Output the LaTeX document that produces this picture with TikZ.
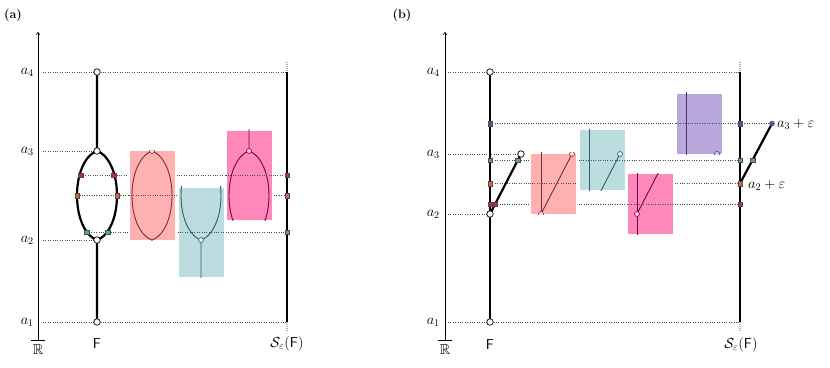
\RequirePackage{fix-cm}
\documentclass[tikz,border=0pt]{standalone}
\usepackage{amssymb}
\usetikzlibrary{arrows.meta}
\definecolor{cSal}{HTML}{FFB0B0}
\definecolor{cTea}{HTML}{BBDDE0}
\definecolor{cMag}{HTML}{FF88BB}
\definecolor{cPur}{HTML}{B9A8DC}
\definecolor{dSal}{HTML}{7A2E2E}
\definecolor{dTea}{HTML}{2F5F60}
\definecolor{dMag}{HTML}{7A0040}
\definecolor{dPur}{HTML}{46306E}
\definecolor{mSal}{HTML}{E85A4A}
\definecolor{mTea}{HTML}{5AA0A8}
\definecolor{mMag}{HTML}{E0106A}
\definecolor{mPur}{HTML}{6A4BAF}
\tikzset{
  lbl/.style={font=\fontsize{14.5}{17}\selectfont, inner sep=1pt},
  tag/.style={font=\fontsize{12.5}{15}\selectfont, inner sep=1pt},
  guide/.style={draw=black!70, line width=0.6pt, dash pattern=on 0.8pt off 1.6pt},
  axisline/.style={line width=0.6pt},
  fline/.style={line width=2.2pt},
  bline/.style={line width=0.9pt},
  ext/.style={draw=black!30, line width=2pt, dash pattern=on 1pt off 1pt},
  ocirc/.style={circle, draw=black, fill=white, line width=0.7pt, minimum size=6.5pt, inner sep=0pt},
  bcirc/.style={circle, draw=#1, fill=white, line width=0.6pt, minimum size=5pt, inner sep=0pt},
  pdot/.style={circle, draw=black!70, fill=mPur, line width=0.4pt, minimum size=5pt, inner sep=0pt},
  mk/.style={rectangle, draw=black!70, fill=#1, line width=0.4pt, minimum size=4.6pt, inner sep=0pt},
  boxA/.style={rectangle, draw=white, line width=0.8pt, fill=#1, minimum width=46pt, minimum height=90pt, inner sep=0pt},
  boxB/.style={rectangle, draw=white, line width=0.8pt, fill=#1, minimum width=46pt, minimum height=61pt, inner sep=0pt},
}
% F of panel (a)
\newcommand\lensFa[1]{%
  \coordinate (#1t) at (97,72);
  \coordinate (#1u) at (97,151);
  \coordinate (#1l) at (77,195.5);
  \coordinate (#1r) at (117,195.5);
  \coordinate (#1d) at (97,240);
  \coordinate (#1b) at (97,322);
  \draw (#1t) -- (#1u) .. controls +(-10,3) and +(0,-25) .. (#1l) .. controls +(0,25) and +(-10,-3) .. (#1d) -- (#1b);
  \draw (#1u) .. controls +(10,3) and +(0,-25) .. (#1r) .. controls +(0,25) and +(10,-3) .. (#1d);
}
% F of panel (b)
\newcommand\branchFb[1]{%
  \coordinate (#1t) at (490,72);
  \coordinate (#1d) at (490,214);
  \coordinate (#1e) at (521,154);
  \coordinate (#1b) at (490,322);
  \draw (#1t) -- (#1b);
  \draw (#1d) -- (#1e);
}
\begin{document}
\begin{tikzpicture}[x=1pt,y=-1pt]
\useasboundingbox (0,0) rectangle (830,367);

%================= PANEL (a) =================
\node[tag] (tagA) at (13,15) {\textbf{(a)}};
\coordinate (aAxB) at (38,340);
\coordinate (aAxT) at (38,32);
\coordinate (aTkL) at (31,340);
\coordinate (aTkR) at (45,340);
\coordinate (gA4) at (43,72);
\coordinate (gA3) at (43,151);
\coordinate (gA2) at (43,240);
\coordinate (gA1) at (43,322);
\coordinate (SaT) at (287,72);
\coordinate (SaB) at (287,322);
\coordinate (SaTx) at (287,62);
\coordinate (SaBx) at (287,331);

\node[mk=mMag] (aFm1) at (80.5,175) {};
\node[mk=mMag] (aFm2) at (113.5,175) {};
\node[mk=mSal] (aFo1) at (77,195.5) {};
\node[mk=mSal] (aFo2) at (117,195.5) {};
\node[mk=mTea] (aFt1) at (86.5,232) {};
\node[mk=mTea] (aFt2) at (107.5,232) {};
\coordinate (aSm) at (287,175);
\coordinate (aSo) at (287,195.5);
\coordinate (aSt) at (287,232);

\draw[guide] (gA4) -- (SaT);
\draw[guide] (gA3) -- (97,151);
\draw[guide] (gA2) -- (97,240);
\draw[guide] (gA1) -- (SaB);
\draw[guide] (aFm1) -- (aSm);
\draw[guide] (aFo1) -- (aSo);
\draw[guide] (aFt1) -- (aSt);

\draw[axisline, -{To[length=3pt,width=4pt]}] (aAxB) -- (aAxT);
\draw[axisline] (aTkL) -- (aTkR);

\node[boxA=cSal] (pA) at (152,195.5) {};
\node[boxA=cTea] (tA) at (201,232) {};
\node[boxA=cMag] (mA) at (249,175) {};
\begin{scope}
  \clip (pA.south west) rectangle (pA.north east);
  \begin{scope}[shift={(55,0)}, bline, color=dSal]
    \lensFa{pa}
    \node[bcirc=dSal, fill=white!55!cSal] (pac) at (pau) {};
  \end{scope}
\end{scope}
\begin{scope}
  \clip (tA.south west) rectangle (tA.north east);
  \begin{scope}[shift={(104,0)}, bline, color=dTea]
    \lensFa{ta}
    \node[bcirc=dTea, fill=white!55!cTea] (tac) at (tad) {};
  \end{scope}
\end{scope}
\begin{scope}
  \clip (mA.south west) rectangle (mA.north east);
  \begin{scope}[shift={(152,0)}, bline, color=dMag]
    \lensFa{ma}
    \node[bcirc=dMag, fill=white!55!cMag] (mac) at (mau) {};
  \end{scope}
\end{scope}
\draw[guide] (pA.west) -- (pA.east);
\draw[guide] (tA.west) -- (tA.east);
\draw[guide] (mA.west) -- (mA.east);

\begin{scope}[fline]
  \lensFa{Fa}
\end{scope}
\node[ocirc] (Fa4) at (Fat) {};
\node[ocirc] (Fa3) at (Fau) {};
\node[ocirc] (Fa2) at (Fad) {};
\node[ocirc] (Fa1) at (Fab) {};
\node[mk=mMag] at (aFm1) {};
\node[mk=mMag] at (aFm2) {};
\node[mk=mSal] at (aFo1) {};
\node[mk=mSal] at (aFo2) {};
\node[mk=mTea] at (aFt1) {};
\node[mk=mTea] at (aFt2) {};

\draw[ext] (SaTx) -- (SaT);
\draw[ext] (SaB) -- (SaBx);
\draw[fline] (SaT) -- (SaB);
\node[mk=mMag] (aSmk) at (aSm) {};
\node[mk=mSal] (aSok) at (aSo) {};
\node[mk=mTea] (aStk) at (aSt) {};

\node[lbl, anchor=east] (aL4) at (35,72) {$a_4$};
\node[lbl, anchor=east] (aL3) at (35,151) {$a_3$};
\node[lbl, anchor=east] (aL2) at (35,240) {$a_2$};
\node[lbl, anchor=east] (aL1) at (35,322) {$a_1$};
\node[lbl] (aRR) at (38,350) {$\mathbb{R}$};
\node[lbl] (aFl) at (97,343) {$\mathsf{F}$};
\node[lbl] (aSl) at (287,344) {$\mathcal{S}_\varepsilon(\mathsf{F})$};

%================= PANEL (b) =================
\node[tag] (tagB) at (402,15) {\textbf{(b)}};
\coordinate (bAxB) at (445,340);
\coordinate (bAxT) at (445,32);
\coordinate (bTkL) at (438,340);
\coordinate (bTkR) at (452,340);
\coordinate (gB4) at (448,72);
\coordinate (gB3) at (448,154);
\coordinate (gB2) at (448,214);
\coordinate (gB1) at (448,322);
\coordinate (SbT) at (740,72);
\coordinate (SbB) at (740,322);
\coordinate (SbTx) at (740,62);
\coordinate (SbBx) at (740,331);
\coordinate (SbD) at (740,183.5);
\coordinate (SbE) at (772,123.5);

\coordinate (bFp) at (490,123.5);
\coordinate (bFt) at (490,160);
\coordinate (bFo) at (490,183.5);
\coordinate (bFm) at (490,204);
\coordinate (bSp) at (740,123.5);
\coordinate (bSt) at (740,160);
\coordinate (bSo) at (740,183.5);
\coordinate (bSm) at (740,204);

\draw[guide] (gB4) -- (SbT);
\draw[guide] (gB3) -- (521,154);
\draw[guide] (gB2) -- (490,214);
\draw[guide] (gB1) -- (SbB);
\draw[guide] (bFp) -- (SbE);
\draw[guide] (bFt) -- (bSt);
\draw[guide] (bFo) -- (bSo);
\draw[guide] (bFm) -- (bSm);

\draw[axisline, -{To[length=3pt,width=4pt]}] (bAxB) -- (bAxT);
\draw[axisline] (bTkL) -- (bTkR);

\node[boxB=cSal] (pB) at (553,183.5) {};
\node[boxB=cTea] (tB) at (602,160) {};
\node[boxB=cMag] (mB) at (650,204) {};
\node[boxB=cPur] (uB) at (699,123.5) {};
\begin{scope}
  \clip (pB.south west) rectangle (pB.north east);
  \begin{scope}[shift={(51,0)}, bline, color=dSal]
    \branchFb{pb}
    \node[bcirc=dSal, fill=white!55!cSal] (pbc1) at (pbd) {};
    \node[bcirc=dSal, fill=white!55!cSal] (pbc2) at (pbe) {};
  \end{scope}
\end{scope}
\begin{scope}
  \clip (tB.south west) rectangle (tB.north east);
  \begin{scope}[shift={(99,0)}, bline, color=dTea]
    \branchFb{tb}
    \node[bcirc=dTea, fill=white!55!cTea] (tbc1) at (tbd) {};
    \node[bcirc=dTea, fill=white!55!cTea] (tbc2) at (tbe) {};
  \end{scope}
\end{scope}
\begin{scope}
  \clip (mB.south west) rectangle (mB.north east);
  \begin{scope}[shift={(147,0)}, bline, color=dMag]
    \branchFb{mb}
    \node[bcirc=dMag, fill=white!55!cMag] (mbc1) at (mbd) {};
    \node[bcirc=dMag, fill=white!55!cMag] (mbc2) at (mbe) {};
  \end{scope}
\end{scope}
\begin{scope}
  \clip (uB.south west) rectangle (uB.north east);
  \begin{scope}[shift={(196,0)}, bline, color=dPur]
    \branchFb{ub}
    \node[bcirc=dPur, fill=white!55!cPur] (ubc1) at (ubd) {};
    \node[bcirc=dPur, fill=white!55!cPur] (ubc2) at (ube) {};
  \end{scope}
\end{scope}
\draw[guide] (pB.west) -- (pB.east);
\draw[guide] (tB.west) -- (tB.east);
\draw[guide] (mB.west) -- (mB.east);
\draw[guide] (uB.west) -- (uB.east);

\begin{scope}[fline]
  \branchFb{Fb}
\end{scope}
\node[ocirc] (Fb4) at (Fbt) {};
\node[ocirc] (Fb2) at (Fbd) {};
\node[ocirc] (Fb3) at (Fbe) {};
\node[ocirc] (Fb1) at (Fbb) {};
\node[mk=mPur] (bFpk) at (bFp) {};
\node[mk=mTea] (bFtk) at (bFt) {};
\node[mk=mTea] (bFtk2) at (517.9,160) {};
\node[mk=mSal] (bFok) at (bFo) {};
\node[mk=mMag] (bFmk) at (bFm) {};
\node[mk=mMag] (bFmk2) at (495.2,204) {};

\draw[ext] (SbTx) -- (SbT);
\draw[ext] (SbB) -- (SbBx);
\draw[fline] (SbT) -- (SbB);
\draw[fline] (SbD) -- (SbE);
\node[pdot] (SbEd) at (SbE) {};
\node[mk=mPur] (bSpk) at (bSp) {};
\node[mk=mTea] (bStk) at (bSt) {};
\node[mk=mTea] (bStk2) at (752.5,160) {};
\node[mk=mSal] (bSok) at (bSo) {};
\node[mk=mMag] (bSmk) at (bSm) {};

\node[lbl, anchor=east] (bL4) at (441,72) {$a_4$};
\node[lbl, anchor=east] (bL3) at (441,154) {$a_3$};
\node[lbl, anchor=east] (bL2) at (441,214) {$a_2$};
\node[lbl, anchor=east] (bL1) at (441,322) {$a_1$};
\node[lbl] (bRR) at (445,350) {$\mathbb{R}$};
\node[lbl] (bFl) at (490,344) {$\mathsf{F}$};
\node[lbl] (bSl) at (741,345) {$\mathcal{S}_\varepsilon(\mathsf{F})$};
\node[lbl, anchor=west] (bE3) at (776,124) {$a_3+\varepsilon$};
\node[lbl, anchor=west] (bE2) at (747,185) {$a_2+\varepsilon$};
\end{tikzpicture}
\end{document}
